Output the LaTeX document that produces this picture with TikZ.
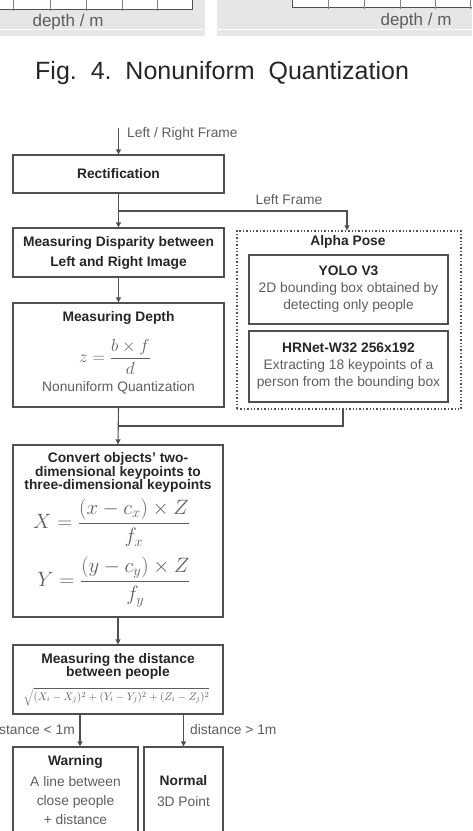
\documentclass[tikz,border=0pt]{standalone}
\usepackage{fontspec}
\setmainfont{Liberation Sans}
\usetikzlibrary{arrows.meta, positioning, calc}

\definecolor{panelgray}{HTML}{E6E6E6}
\definecolor{linegray}{HTML}{505050}
\definecolor{textgray}{HTML}{5E5E5E}
\definecolor{headgray}{HTML}{262626}

\newcommand{\flowfont}{\fontsize{13.8}{17}\selectfont}

\tikzset{
  box/.style={draw=linegray, line width=1.3pt, inner sep=0pt, align=center},
  head/.style={font=\flowfont\bfseries, text=headgray, align=center, inner sep=0pt},
  body/.style={font=\flowfont, text=textgray, align=center, inner sep=0pt},
  formula/.style={font=\fontsize{18}{22}\selectfont, text=textgray, inner sep=0pt},
  arr/.style={draw=linegray, line width=1.1pt, -{Triangle[length=5pt,width=5pt]}},
  link/.style={draw=linegray, line width=1.1pt},
}

\begin{document}
\begin{tikzpicture}[x=1pt, y=-1pt]
    \useasboundingbox (0,0) rectangle (472,831);
    \clip (0,0) rectangle (472,831);

    % rest of the graphs above
    \fill[panelgray] (0,0) rectangle (205,36);
    \fill[panelgray] (217,0) rectangle (472,36);
    \draw[white, line width=1pt] (0,29) -- (205,29);
    \draw[white, line width=1pt] (217,29) -- (472,29);
    \fill[white] (0,0) rectangle (192,9);
    \draw[linegray, line width=0.8pt] (0,9) -- (192,9) -- (192,0);
    \foreach \x in {13,50,86,122,157}
        \draw[gray, line width=0.6pt] (\x,0) -- (\x,10.5);
    \fill[white] (292,0) rectangle (472,7);
    \draw[linegray, line width=0.8pt] (292,0) -- (292,7) -- (472,7);
    \foreach \x in {328,364,400,435,470}
        \draw[gray, line width=0.6pt] (\x,0) -- (\x,8.5);
    \node[font=\fontsize{17}{20}\selectfont, text=textgray] (depthl) at (68,22) {depth / m};
    \node[font=\fontsize{17}{20}\selectfont, text=textgray] (depthr) at (416,21) {depth / m};

    % caption
    \node[font=\fontsize{25}{30}\selectfont, text=headgray, anchor=west, inner sep=0pt] (caption) at (35,73) {Fig.\ \ 4.\ \ Nonuniform\ \ Quantization};

    % main column
    \node[box, minimum width=211pt, minimum height=38pt, font=\flowfont\bfseries, text=headgray] (rect) at (118.5,174) {Rectification};
    \node[box, minimum width=211pt, minimum height=49pt, font=\fontsize{13.8}{20}\selectfont\bfseries, text=headgray] (disp) at (118.5,252.5) {Measuring Disparity between\\Left and Right Image};
    \node[box, minimum width=211pt, minimum height=104pt] (depth) at (118.5,355) {};
    \node[box, minimum width=210pt, minimum height=172pt] (conv) at (118,531) {};
    \node[box, minimum width=210pt, minimum height=69pt] (dist) at (118,679.5) {};
    \node[box, minimum width=125pt, minimum height=160pt] (warn) at (75.5,827) {};
    \node[box, minimum width=79pt, minimum height=160pt] (norm) at (183.5,827) {};

    % Alpha Pose
    \node[box, dash pattern=on 1.4pt off 2pt, line width=1.2pt, minimum width=224pt, minimum height=178pt] (alpha) at (349,320) {};
    \node[head] (alphat) at (348,242) {Alpha Pose};
    \node[box, font=\flowfont, text=textgray, minimum width=199pt, minimum height=69pt] (yolo) at (348.5,289.5)
        {\textbf{\color{headgray}YOLO V3}\\2D bounding box obtained by\\detecting only people};
    \node[box, font=\flowfont, text=textgray, minimum width=199pt, minimum height=71pt] (hrnet) at (348.5,366.5)
        {\textbf{\color{headgray}HRNet-W32 256x192}\\Extracting 18 keypoints of a\\person from the bounding box};

    % texts in the boxes
    \node[head] (deptht) at (118.5,318) {Measuring Depth};
    \node[formula] (depthf) at (115,357) {$z=\displaystyle\frac{b\times f}{d}$};
    \node[body] (depthq) at (118.5,388) {Nonuniform Quantization};

    \node[head, font=\fontsize{13.8}{13.5}\selectfont\bfseries] (convt) at (118,472.5) {Convert objects' two-\\dimensional keypoints to\\three-dimensional keypoints};
    \node[formula, font=\fontsize{20}{22}\selectfont] (convx) at (111.5,523) {$X=\displaystyle\frac{(x-c_x)\times Z}{f_x}$};
    \node[formula, font=\fontsize{20}{22}\selectfont] (convy) at (114,582) {$Y=\displaystyle\frac{(y-c_y)\times Z}{f_y}$};

    \node[head, font=\fontsize{13.8}{13.5}\selectfont\bfseries] (distt) at (118,666.5) {Measuring the distance\\between people};
    \node[formula, font=\fontsize{11}{13}\selectfont] (distf) at (116.5,697) {$\sqrt{(X_i-X_j)^2+(Y_i-Y_j)^2+(Z_i-Z_j)^2}$};

    \node[head] (warnt) at (75.5,762) {Warning};
    \node[body, font=\fontsize{13.8}{19}\selectfont] (warnb) at (75.5,801) {A line between\\close people\\+ distance};
    \node[head] (normt) at (183.5,781) {Normal};
    \node[body] (normb) at (183.5,802) {3D Point};

    % connectors
    \coordinate (in) at (118.5,128);
    \draw[arr] (in) -- (rect.north);
    \node[body, anchor=west] (inlbl) at (127,134) {Left / Right Frame};

    \draw[arr] (rect.south) -- (disp.north);
    \coordinate (split) at (118.5,211);
    \draw[arr] (split) -| ([xshift=-2pt]alpha.north);
    \node[body] (leftlbl) at (289,200) {Left Frame};

    \draw[arr] (disp.south) -- (depth.north);
    \draw[arr] (depth.south) -- (conv.north);
    \coordinate (merge) at (118.5,426);
    \draw[link] ([xshift=-6pt]alpha.south) |- (merge);

    \draw[arr] (conv.south) -- (dist.north);
    \draw[arr] ([xshift=4.5pt]dist.south -| warn.north) -- ([xshift=4.5pt]warn.north);
    \draw[arr] (dist.south -| norm.north) -- (norm.north);
    \node[body, anchor=east] (lesslbl) at (75,730) {distance < 1m};
    \node[body, anchor=west] (morelbl) at (190,730) {distance > 1m};
\end{tikzpicture}
\end{document}
